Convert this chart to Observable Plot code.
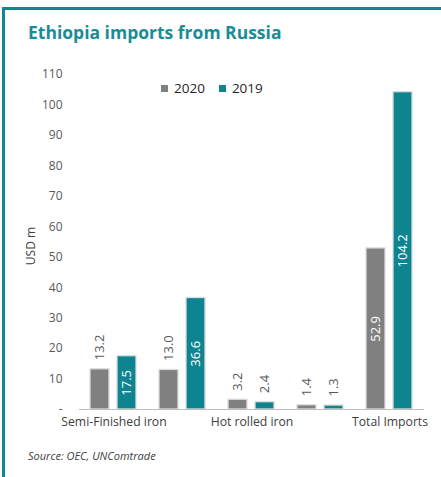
<!DOCTYPE html>
<html>
<head>
<meta charset="utf-8">
<script src="https://cdn.jsdelivr.net/npm/d3@7"></script>
<script src="https://cdn.jsdelivr.net/npm/@observablehq/plot@0.6"></script>
<style>
  html, body { margin: 0; padding: 0; background: #fff; }
  #wrap { position: relative; width: 441px; height: 477px; overflow: hidden; font-family: "Open Sans", sans-serif; }
  #frame { position: absolute; left: 2px; top: 7px; width: 445px; height: 480px; border-left: 3px solid #13868f; border-top: 3px solid #13868f; box-sizing: border-box; }
  #title { position: absolute; left: 28px; top: 20px; font-size: 17.5px; font-weight: 700; color: #1a8c97; white-space: nowrap; }
  #chart { position: absolute; left: 0; top: 0; }
  #legend { position: absolute; left: 161px; top: 79px; font-size: 13.5px; color: #262626; white-space: nowrap; }
  #legend span.sw { display: inline-block; width: 7px; height: 7px; margin-right: 6px; vertical-align: 1px; }
  #ylabel { position: absolute; left: 30px; top: 246px; font-size: 12px; color: #404040; transform: translate(-50%, -50%) rotate(-90deg); white-space: nowrap; }
  #source { position: absolute; left: 28px; top: 448px; font-size: 11px; font-style: italic; color: #404040; white-space: nowrap; }
</style>
</head>
<body>
<div id="wrap">
  <div id="frame"></div>
  <div id="title">Ethiopia imports from Russia</div>
  <div id="chart"></div>
  <div id="legend"></div>
  <div id="ylabel">USD m</div>
  <div id="source">Source: OEC, UNComtrade</div>
</div>
<script>
const categories = ["Semi-Finished iron", "Group 2", "Hot rolled iron", "Group 4", "Total Imports"];
const categoryLabels = ["Semi-Finished iron", "", "Hot rolled iron", "", "Total Imports"];
const years = ["2020", "2019"];
const values2020 = [13.2, 13.0, 3.2, 1.4, 52.9];
const values2019 = [17.5, 36.6, 2.4, 1.3, 104.2];
const yTicks = [0, 10, 20, 30, 40, 50, 60, 70, 80, 90, 100, 110];
const colors = ["#808080", "#0e8490"];

const data = [];
categories.forEach((c, i) => {
  data.push({cat: c, year: "2020", value: values2020[i]});
  data.push({cat: c, year: "2019", value: values2019[i]});
});
const fmt = d => d.value.toFixed(1);

const chart = Plot.plot({
  width: 441,
  height: 477,
  marginLeft: 77,
  marginRight: 16,
  marginTop: 74,
  marginBottom: 68,
  style: {fontFamily: "Open Sans, sans-serif", background: "transparent", overflow: "visible"},
  fx: {domain: categories, padding: 0, label: null},
  x: {domain: years, paddingInner: 0.286, paddingOuter: 0.386, axis: null},
  y: {domain: [0, 110], label: null},
  color: {domain: years, range: colors},
  marks: [
    Plot.axisY({ticks: yTicks, tickSize: 0, tickPadding: 17, label: null, fontSize: 12, color: "#595959",
      tickFormat: d => d === 0 ? "-" : d}),
    Plot.axisFx({anchor: "bottom", tickSize: 0, tickPadding: 8, label: null, fontSize: 12.2, color: "#404040",
      tickFormat: d => categoryLabels[categories.indexOf(d)]}),
    Plot.barY(data, {fx: "cat", x: "year", y: "value", fill: "year", stroke: "#dcdcdc", strokeWidth: 1.3}),
    Plot.ruleY([0], {stroke: "#bfbfbf", strokeWidth: 1.2}),
    Plot.text(data.filter(d => d.value > 15), {fx: "cat", x: "year", y: d => d.value / 2, text: fmt,
      rotate: -90, fill: "white", fontSize: 13}),
    Plot.text(data.filter(d => d.value <= 15), {fx: "cat", x: "year", y: "value", text: fmt,
      rotate: -90, textAnchor: "start", dy: -9, fill: "#595959", fontSize: 13})
  ]
});
document.getElementById("chart").appendChild(chart);

const legend = document.getElementById("legend");
years.forEach((y, i) => {
  const item = document.createElement("span");
  item.style.marginRight = "14px";
  item.innerHTML = `<span class="sw" style="background:${colors[i]}"></span>${y}`;
  legend.appendChild(item);
});
</script>
</body>
</html>
